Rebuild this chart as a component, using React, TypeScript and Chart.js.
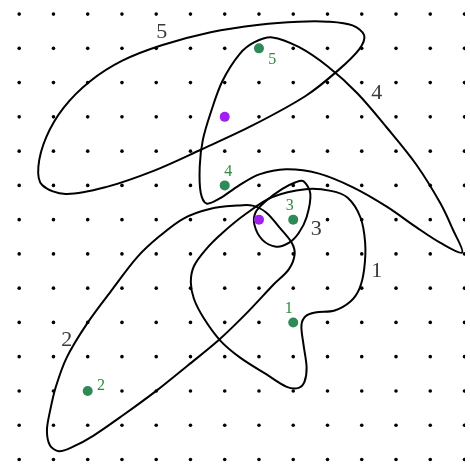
import React, { useEffect, useRef } from "react";
import { Chart, registerables } from "chart.js";

Chart.register(...registerables);

// grid of dots (data units)
const gridX = [0, 1, 2, 3, 4, 5, 6, 7, 8, 9, 10, 11, 12, 13];
const gridY = [0, 1, 2, 3, 4, 5, 6, 7, 8, 9, 10, 11, 12, 13];

// closed curves (grid units)
const curve1: [number, number][] = [
  [7.39, 7.66], [8.36, 7.89], [9.1, 7.84], [9.59, 7.64], [9.96, 7.07], [10.1, 6.32],
  [10.07, 5.55], [9.93, 4.98], [9.67, 4.61], [9.21, 4.35], [8.64, 4.29], [8.36, 4.18],
  [8.24, 3.92], [8.3, 3.35], [8.39, 2.69], [8.33, 2.27], [8.16, 2.09], [7.81, 2.12],
  [7.21, 2.49], [6.44, 2.98], [5.87, 3.47], [5.39, 4.12], [5.1, 4.69], [5.01, 5.18],
  [5.1, 5.64], [5.44, 6.12], [5.93, 6.61], [6.59, 7.15],
];
const curve2: [number, number][] = [
  [5.59, 7.32], [6.36, 7.41], [6.81, 7.41], [7.21, 7.21], [7.59, 6.78], [7.96, 6.32],
  [8.04, 5.98], [7.87, 5.55], [7.44, 5.12], [6.64, 4.27], [5.81, 3.47], [4.93, 2.75],
  [4.01, 2.01], [3.07, 1.32], [2.16, 0.69], [1.53, 0.35], [1.16, 0.24], [0.9, 0.41],
  [0.81, 0.84], [0.9, 1.41], [1.07, 2.12], [1.39, 2.98], [1.99, 3.98], [2.73, 4.98],
  [3.44, 5.9], [4.1, 6.52], [4.81, 7.04],
];
const curve3: [number, number][] = [
  [8.3, 8.12], [8.5, 7.75], [8.39, 7.07], [8.16, 6.61], [7.87, 6.32], [7.5, 6.21],
  [7.1, 6.41], [6.87, 6.84], [6.9, 7.21], [7.21, 7.55], [7.67, 7.89], [8.07, 8.09],
];
const curve4: [number, number][] = [
  [7.39, 12.32], [8.16, 12.04], [9.01, 11.47], [9.87, 10.69], [10.73, 9.69], [11.59, 8.61],
  [12.3, 7.47], [12.67, 6.69], [12.93, 6.04], [12.3, 6.32], [11.59, 6.78], [10.73, 7.38],
  [9.73, 7.95], [8.73, 8.35], [7.79, 8.47], [7.01, 8.32], [6.39, 7.98], [5.84, 7.61],
  [5.47, 7.47], [5.3, 7.78], [5.27, 8.55], [5.36, 9.32], [5.59, 10.12], [5.93, 11.04],
  [6.44, 11.84], [6.87, 12.18],
];
const curve5: [number, number][] = [
  [0.67, 8.01], [0.56, 8.55], [0.79, 9.41], [1.3, 10.27], [2.07, 11.04], [3.01, 11.64],
  [4.16, 12.09], [5.59, 12.47], [7.01, 12.69], [8.16, 12.78], [9.01, 12.78], [9.73, 12.67],
  [10.07, 12.38], [9.93, 11.98], [9.3, 11.35], [8.36, 10.61], [6.81, 9.75], [5.3, 9.04],
  [3.96, 8.44], [2.53, 7.95], [1.36, 7.75],
];
const curves = [curve1, curve2, curve3, curve4, curve5];

const greenPoints: [number, number][] = [[8, 4], [2, 2], [8, 7], [6, 8], [7, 12]];
const greenLabels = ["1", "2", "3", "4", "5"];
const greenLabelPos: [number, number][] = [[7.87, 4.41], [2.39, 2.15], [7.9, 7.41], [6.1, 8.41], [7.39, 11.67]];
const purplePoints: [number, number][] = [[6, 10], [7, 7]];
const curveLabels = ["1", "2", "3", "4", "5"];
const curveLabelPos: [number, number][] = [[10.44, 5.49], [1.39, 3.49], [8.67, 6.72], [10.44, 10.69], [4.16, 12.47]];

const W = 470;
const H = 471;

export default function App() {
  const ref = useRef<HTMLCanvasElement | null>(null);
  useEffect(() => {
    if (!ref.current) return;
    const gridData: { x: number; y: number }[] = [];
    gridX.forEach((x) => gridY.forEach((y) => gridData.push({ x, y })));

    const curveSets = curves.map((c) => {
      const n = c.length;
      const wrapped = [c[n - 1], ...c, c[0], c[1]].map(([x, y]) => ({ x, y }));
      return {
        data: wrapped,
        showLine: true,
        tension: 0.33,
        borderColor: "#000",
        borderWidth: 2,
        pointRadius: 0,
        fill: false,
        order: 5,
        segment: {
          borderColor: (ctx: any) =>
            ctx.p0DataIndex === 0 || ctx.p0DataIndex === n + 1 ? "rgba(0,0,0,0)" : "#000",
        },
      };
    });

    const labelPlugin = {
      id: "labels",
      afterDatasetsDraw(chart: any) {
        const { ctx, scales } = chart;
        ctx.save();
        ctx.textAlign = "center";
        ctx.textBaseline = "middle";
        ctx.fillStyle = "#3a3a3a";
        ctx.font = '22px "Liberation Serif", "DejaVu Serif", serif';
        curveLabels.forEach((t, i) => {
          ctx.fillText(t, scales.x.getPixelForValue(curveLabelPos[i][0]), scales.y.getPixelForValue(curveLabelPos[i][1]));
        });
        ctx.fillStyle = "#2e8b3a";
        ctx.font = '16px "Liberation Serif", "DejaVu Serif", serif';
        greenLabels.forEach((t, i) => {
          ctx.fillText(t, scales.x.getPixelForValue(greenLabelPos[i][0]), scales.y.getPixelForValue(greenLabelPos[i][1]));
        });
        ctx.restore();
      },
    };

    const chart = new Chart(ref.current, {
      type: "scatter",
      data: {
        datasets: [
          {
            data: gridData,
            pointRadius: 1.8,
            pointBackgroundColor: "#000",
            pointBorderWidth: 0,
            order: 10,
          },
          ...curveSets,
          {
            data: greenPoints.map(([x, y]) => ({ x, y })),
            pointRadius: 5,
            pointBackgroundColor: "#2e8b57",
            pointBorderWidth: 0,
            order: 1,
          },
          {
            data: purplePoints.map(([x, y]) => ({ x, y })),
            pointRadius: 5,
            pointBackgroundColor: "#a020f0",
            pointBorderWidth: 0,
            order: 1,
          },
        ] as any,
      },
      options: {
        animation: false,
        responsive: false,
        devicePixelRatio: 1,
        layout: { padding: 0 },
        plugins: { legend: { display: false }, tooltip: { enabled: false } },
        events: [],
        scales: {
          x: { type: "linear", display: false, min: -14.5 / 35, max: 13 + 0.5 / 35 },
          y: { type: "linear", display: false, min: -6.7 / 35, max: 13 + 9.3 / 35 },
        },
      },
      plugins: [labelPlugin],
    });
    return () => chart.destroy();
  }, []);

  return (
    <div style={{ position: "fixed", left: 0, top: 0, width: W, height: H, background: "#fff" }}>
      <canvas ref={ref} width={W} height={H} style={{ display: "block", width: W, height: H }} />
    </div>
  );
}
